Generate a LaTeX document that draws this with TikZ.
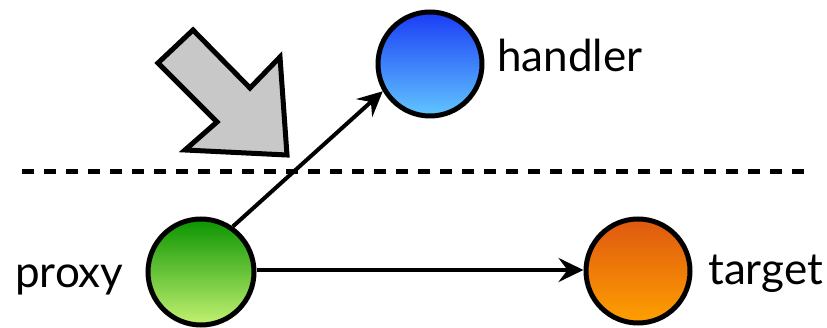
\documentclass[tikz,border=0pt]{standalone}
\usepackage{fontspec}
\setmainfont{Lato}
\usetikzlibrary{arrows.meta}
\definecolor{blueTop}{HTML}{1A3CF5}
\definecolor{blueBot}{HTML}{62C6FF}
\definecolor{greenTop}{HTML}{0A9400}
\definecolor{greenBot}{HTML}{C4F272}
\definecolor{orangeTop}{HTML}{DE5810}
\definecolor{orangeBot}{HTML}{FFA000}
\definecolor{blockgray}{HTML}{C8C8C8}
\tikzset{
  ball/.style={circle, draw=black, line width=5pt, minimum size=#1, inner sep=0pt},
  label text/.style={anchor=base west, font=\fontsize{44}{52}\selectfont, inner sep=0pt},
  link/.style={line width=4pt, -{Stealth[length=25pt,width=24pt,inset=9pt]}},
  divider/.style={line width=5pt, dash pattern=on 12pt off 10pt},
  block/.style={draw=black, fill=blockgray, line width=5pt, line join=miter}
}
\begin{document}
\begin{tikzpicture}[x=1pt, y=-1pt]
  \useasboundingbox (0,0) rectangle (827,328);

  % boundary between the two layers
  \coordinate (divL) at (22,172);
  \coordinate (divR) at (810,172);
  \draw[divider] (divL) -- (divR);

  % objects
  \node[ball=104pt, top color=blueTop, bottom color=blueBot] (handler) at (430,64) {};
  \node[ball=106pt, top color=greenTop, bottom color=greenBot] (proxy) at (201,272) {};
  \node[ball=104pt, top color=orangeTop, bottom color=orangeBot] (target) at (638,271) {};

  \node[label text] (handlerlbl) at (497,72) {handler};
  \node[label text] (proxylbl) at (15,288) {proxy};
  \node[label text, anchor=base east] (targetlbl) at (823,285) {target};

  % references
  \draw[link] (proxy.55) -- (handler.210);
  \draw[link] (proxy.east |- 0,270) -- (target.west |- 0,270);

  % block arrow pointing at the crossing
  \draw[block] (193,30) -- (158,63) -- (217,122) -- (185,150) -- (287,155)
               -- (280,57) -- (250,88) -- cycle;
\end{tikzpicture}
\end{document}
